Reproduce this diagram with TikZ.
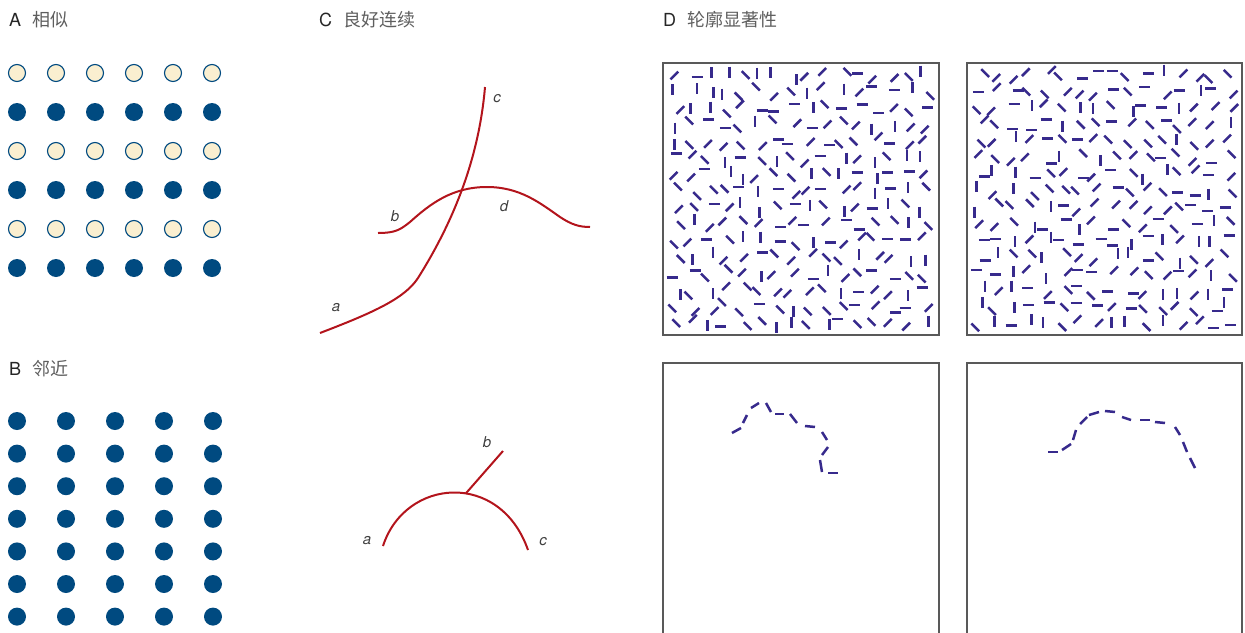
\documentclass[tikz,border=0pt]{standalone}
\usepackage{fontspec}
\setsansfont{TeX Gyre Heros}
\newfontfamily\zhfont{Noto Sans CJK SC}
\usepackage{tikz}
\usetikzlibrary{positioning}
\definecolor{GSblue}{HTML}{004A80}
\definecolor{GScream}{HTML}{FAEFD0}
\definecolor{GSred}{HTML}{B3141C}
\definecolor{GSink}{HTML}{372A8C}
\definecolor{GSgray}{HTML}{5E5E5E}
\tikzset{
  gs/dark/.style={circle, fill=GSblue, minimum size=18pt, inner sep=0pt},
  gs/light/.style={circle, draw=GSblue, line width=1.1pt, fill=GScream, minimum size=17pt, inner sep=0pt},
  gs/title/.style={anchor=base west, inner sep=0pt, font=\sffamily\fontsize{18}{20}\selectfont, text=black!85},
  gs/curve/.style={GSred, line width=2pt},
  gs/label/.style={font=\sffamily\itshape\fontsize{15}{16}\selectfont, text=black!75, inner sep=0pt},
  gs/frame/.style={draw=black!65, line width=1.1pt},
  gs/bar/.style={GSink, line width=2.5pt}
}
\newcommand{\zh}[1]{{\zhfont\color{GSgray}#1}}
% random field of short bars: x0, y0, seed
\newcommand{\gsfield}[3]{%
  \pgfmathsetseed{#3}
  \foreach \i in {0,...,15}
    \foreach \j in {0,...,15}{
      \pgfmathsetmacro\ang{45*random(0,3)}
      \draw[gs/bar] (#1+16.6*\i+5.5*rand, #2+16.6*\j+5.5*rand) ++(\ang:-5.5) -- ++(\ang:11);
    }}

\begin{document}
\begin{tikzpicture}[x=1pt, y=-1pt]
  \useasboundingbox (0,0) rectangle (1245,632);
  % titles
  \node[gs/title] (tA) at (9,26.5) {A\hspace{11pt}\zh{相似}};
  \node[gs/title] (tB) at (9,375) {B\hspace{11pt}\zh{邻近}};
  \node[gs/title] (tC) at (319,26.5) {C\hspace{11pt}\zh{良好连续}};
  \node[gs/title] (tD) at (663,26.5) {D\hspace{11pt}\zh{轮廓显著性}};
  % A: similarity
  \foreach \r/\s in {0/light,1/dark,2/light,3/dark,4/light,5/dark}
    \foreach \c in {0,...,5}
      \node[gs/\s] (a-\r-\c) at (17+39*\c, 73+39*\r) {};
  % B: proximity
  \foreach \r in {0,...,6}
    \foreach \c in {0,...,4}
      \node[gs/dark] (b-\r-\c) at (17+49*\c, 421+32.6*\r) {};
  % C: good continuation
  \draw[gs/curve] (320,333) .. controls (375,312) and (405,298) .. (418,278)
    .. controls (445,235) and (478,170) .. (485,87);
  \draw[gs/curve] (378,233) .. controls (395,233) and (400,230) .. (410,222)
    .. controls (430,204) and (452,187) .. (487,187)
    .. controls (520,187) and (540,203) .. (560,217)
    .. controls (572,225) and (580,227) .. (590,227);
  \node[gs/label] (ca) at (336,308) {a};
  \node[gs/label] (cb) at (395,216) {b};
  \node[gs/label] (cc) at (497,99) {c};
  \node[gs/label] (cd) at (504,206) {d};
  \draw[gs/curve] (383,546) .. controls (405,478) and (500,470) .. coordinate[pos=0.57] (joint) (528,550);
  \coordinate (tip) at (503,451);
  \draw[gs/curve] (joint) -- (tip);
  \node[gs/label] (ka) at (367,541) {a};
  \node[gs/label] (kb) at (487,442) {b};
  \node[gs/label] (kc) at (543,542) {c};
  % D: contour saliency
  \draw[gs/frame] (663,63) rectangle (939,335);
  \draw[gs/frame] (967,63) rectangle (1242,335);
  \draw[gs/frame] (663,640) |- (939,363) -- (939,640);
  \draw[gs/frame] (967,640) |- (1242,363) -- (1242,640);
  \gsfield{676}{75}{11}
  \gsfield{980}{75}{29}
  \foreach \xa/\ya/\xb/\yb in {732/433/741/428, 743/423/747/415, 751/408/759/403,
      766/403/771/412, 775/414/784/414, 790/414/797/423, 805/426/815/427,
      822/432/827/440, 828/447/822/455, 820/460/822/472, 828/473/838/473}
    \draw[gs/bar] (\xa,\ya) -- (\xb,\yb);
  \foreach \xa/\ya/\xb/\yb in {1048/452/1058/452, 1062/450/1071/444, 1073/440/1076/430,
      1080/424/1087/417, 1089/415/1099/412, 1105/411/1115/412, 1122/417/1131/420,
      1140/420/1150/420, 1155/422/1165/423, 1175/427/1180/435, 1183/442/1187/452,
      1190/458/1195/468}
    \draw[gs/bar] (\xa,\ya) -- (\xb,\yb);
\end{tikzpicture}
\end{document}
